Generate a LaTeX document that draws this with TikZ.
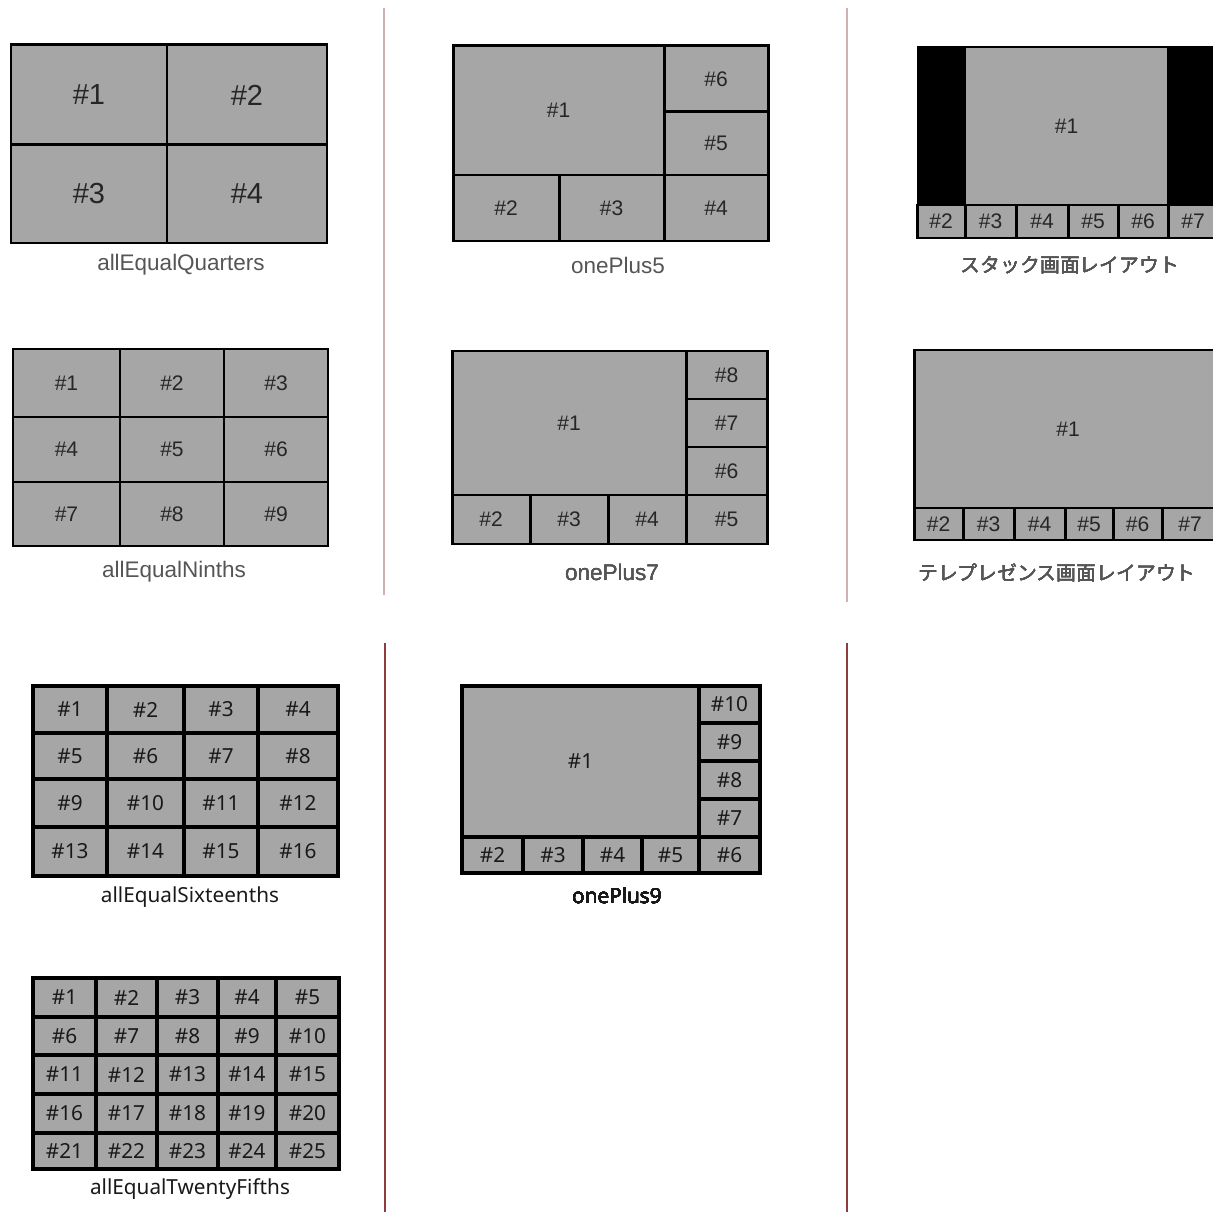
\documentclass[tikz,border=0pt]{standalone}
\usepackage{fontspec}
\setmainfont{Liberation Sans}
\newfontfamily\lowfont{Noto Sans}
\newfontfamily\jpfont{Noto Sans CJK JP}
\usepackage{xcolor}
\usetikzlibrary{fit}

\definecolor{cellgray}{RGB}{166,166,166}
\definecolor{numgray}{RGB}{38,38,38}
\definecolor{capgray}{RGB}{85,85,85}
\definecolor{seplight}{RGB}{208,176,176}
\definecolor{sepdark}{RGB}{140,62,62}

% one tile of a layout: [style]{name}{corner}{corner}{text}
\newcommand{\tile}[5][]{\node[cell,fit={(#3) (#4)},#1,
  label={[tiletext,#1]center:#5}] (#2) {};}

\begin{document}
\begin{tikzpicture}[
    x=0.02cm, y=-0.02cm,
    cell/.style={draw=black, fill=cellgray, line width=1.7pt, inner sep=0pt},
    tiletext/.style={draw=none, fill=none, inner sep=0pt, text=numgray,
                     font=\fontsize{12}{13}\selectfont},
    big/.style={font=\fontsize{16.5}{18}\selectfont},
    low/.style={line width=2.2pt, text=black!90, font=\lowfont\fontsize{11.8}{14}\selectfont},
    topcap/.style={text=capgray, font=\fontsize{12.8}{15}\selectfont},
    lowcap/.style={text=black!90, font=\lowfont\fontsize{11.8}{14}\selectfont},
    jpcap/.style={text=capgray, font=\jpfont\fontsize{11.3}{14}\selectfont},
    sepA/.style={seplight, line width=1.3pt},
    sepB/.style={sepdark, line width=0.9pt},
  ]
  \useasboundingbox (0,0) rectangle (1213,1212);
  \begin{scope}
  \clip (0,0) rectangle (1213,1212);

  % column separators
  \coordinate (s1a) at (384,8);   \coordinate (s1b) at (384,595);
  \coordinate (s2a) at (847,8);   \coordinate (s2b) at (847,602);
  \coordinate (s3a) at (385,643); \coordinate (s3b) at (385,1212);
  \coordinate (s4a) at (847,643); \coordinate (s4b) at (847,1212);
  \draw[sepA] (s1a) -- (s1b);
  \draw[sepA] (s2a) -- (s2b);
  \draw[sepB] (s3a) -- (s3b);
  \draw[sepB] (s4a) -- (s4b);

  % allEqualQuarters
  \foreach \ya/\yb [count=\r from 0] in {45/145,145/243}
    \foreach \xa/\xb [count=\c] in {11/167,167/327}{
      \pgfmathtruncatemacro\n{2*\r+\c}
      \tile[big]{q\n}{\xa,\ya}{\xb,\yb}{\#\n}}
  \node[topcap] (capq) at (181,265) {allEqualQuarters};

  % allEqualNinths
  \foreach \ya/\yb [count=\r from 0] in {349/417,417/482,482/546}
    \foreach \xa/\xb [count=\c] in {13/120,120/224,224/328}{
      \pgfmathtruncatemacro\n{3*\r+\c}
      \tile{n\n}{\xa,\ya}{\xb,\yb}{\#\n}}
  \node[topcap] (capn) at (174,572) {allEqualNinths};

  % onePlus5
  \tile{a1}{453,46}{664,175}{\#1}
  \tile{a6}{664,46}{768,112}{\#6}
  \tile{a5}{664,112}{768,175}{\#5}
  \tile{a2}{453,175}{559,241}{\#2}
  \tile{a3}{559,175}{664,241}{\#3}
  \tile{a4}{664,175}{768,241}{\#4}
  \node[topcap] (capa) at (618,265) {onePlus5};

  % onePlus7
  \tile{b1}{452,351}{686,495}{\#1}
  \tile{b8}{686,351}{767,399}{\#8}
  \tile{b7}{686,399}{767,447}{\#7}
  \tile{b6}{686,447}{767,495}{\#6}
  \foreach \xa/\xb [count=\k from 2] in {452/530,530/608,608/686,686/767}
    \tile{b\k}{\xa,495}{\xb,544}{\#\k}
  \node[topcap] (capb) at (612,572) {onePlus7};

  % stack layout
  \node[fill=black, inner sep=0pt, fit={(917,46) (1240,238)}] (stk) {};
  \tile[draw=none]{stk1}{966,48}{1167,205}{\#1}
  \foreach \xa/\xb [count=\k from 2] in {917/965,965/1016,1016/1068,1068/1118,1118/1168,1168/1218}
    \tile{stk\k}{\xa,205}{\xb,238}{\#\k}
  \node[jpcap] (capstk) at (1070,265) {スタック画面レイアウト};

  % telepresence layout
  \tile{tel1}{914,350}{1240,508}{}
  \node[tiletext] (tel1t) at (1068,429) {\#1};
  \foreach \xa/\xb [count=\k from 2] in {914/963,963/1014,1014/1065,1065/1113,1113/1162,1162/1218}
    \tile{tel\k}{\xa,508}{\xb,540}{\#\k}
  \node[jpcap] (captel) at (1057,573) {テレプレゼンス画面レイアウト};

  % allEqualSixteenths
  \foreach \ya/\yb [count=\r from 0] in {686/733,733/779,779/827,827/876}
    \foreach \xa/\xb [count=\c] in {33/107,107/184,184/258,258/338}{
      \pgfmathtruncatemacro\n{4*\r+\c}
      \tile[low]{x\n}{\xa,\ya}{\xb,\yb}{\#\n}}
  \node[lowcap] (capx) at (190,897) {allEqualSixteenths};

  % onePlus9
  \tile[low]{c1}{462,686}{699,837}{\#1}
  \foreach \ya/\yb/\k in {686/723/10,723/761/9,761/799/8,799/837/7}
    \tile[low]{c\k}{699,\ya}{760,\yb}{\#\k}
  \foreach \xa/\xb [count=\k from 2] in {462/523,523/583,583/642,642/699,699/760}
    \tile[low]{c\k}{\xa,837}{\xb,873}{\#\k}
  \node[lowcap] (capc) at (617,896) {onePlus9};

  % allEqualTwentyFifths
  \foreach \ya/\yb [count=\r from 0] in {978/1017,1017/1055,1055/1094,1094/1133,1133/1169}
    \foreach \xa/\xb [count=\c] in {33/96,96/157,157/218,218/276,276/339}{
      \pgfmathtruncatemacro\n{5*\r+\c}
      \tile[low]{y\n}{\xa,\ya}{\xb,\yb}{\#\n}}
  \node[lowcap] (capy) at (190,1189) {allEqualTwentyFifths};
  \end{scope}
\end{tikzpicture}
\end{document}
